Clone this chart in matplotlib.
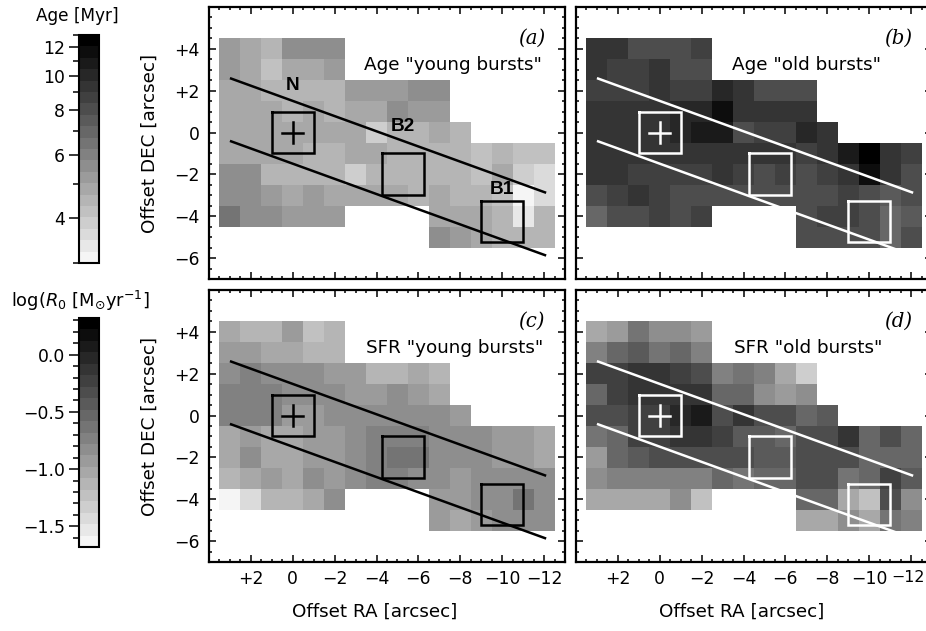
import numpy as np
import matplotlib
matplotlib.use('Agg')
import matplotlib.pyplot as plt
from matplotlib.colors import ListedColormap, LogNorm, Normalize
from matplotlib.cm import ScalarMappable
from matplotlib.ticker import FixedLocator, NullFormatter, FixedFormatter
from matplotlib.transforms import ScaledTranslation

plt.rcParams['font.family'] = 'DejaVu Sans'
plt.rcParams['mathtext.fontset'] = 'dejavusans'
_ = np.nan

ra_centers = [3, 2, 1, 0, -1, -2, -3, -4, -5, -6, -7, -8, -9, -10, -11, -12]
dec_centers = [4, 3, 2, 1, 0, -1, -2, -3, -4, -5]
gap4 = [_, _, _, _]
blank10 = [_] * 10

age_young = [
    [5.3, 5, 4.5, 5.5, 5.5, 5.5],
    [5.15, 4.85, 4.1, 4.7, 4.7, 5.15],
    [4.7, 4.7, 4.5, 4.5, 4.5, 4.5, 5.3, 5.3, 5.3, 5.65, 5.65],
    [4.7, 4.7, 4.7, 4.6, 4.7, 4.5, 4.85, 4.85, 5.65, 5.3, 5.3],
    [4.7, 5, 5, 4.7, 4.7, 4.85, 4.7, 4.0, 4.35, 4.5, 4.85, 4.6],
    [5, 5, 4.7, 4.7, 4.6, 4.5, 4.7, 4.7, 4.5, 4.5, 4.6, 4.6, 4.2, 4.5, 4.2, 4.1],
    [5.5, 5.5, 4.6, 4.6, 4.6, 4.6, 4.0, 4.5, 4.5, 4.5, 4.6, 4.35, 4.2, 4.85, 3.9, 3.5],
    [5.5, 5.5, 5.3, 5, 5.3, 4.85, 4.7, 4.7, 4.85, 4.6, 4.7, 4.5, 4.6, 4.2, 3.1, 3.6],
    [6.4, 5.8, 5.8, 5.3, 5.3, 5.3] + gap4 + [4.85, 4.85, 4.7, 4.5, 3.35, 4.35],
    blank10 + [5.65, 5.15, 4.85, 4.6, 4.35, 4.5],
]
age_old = [
    [9.1, 9.1, 8, 8, 8, 8.8],
    [9.3, 8.8, 8.8, 9.3, 8, 8],
    [8.8, 8.8, 8.8, 9.3, 8.8, 8.8, 9.9, 9.1, 8, 8, 8],
    [9.6, 9.6, 9.6, 9.6, 10.2, 10.2, 11.8, 9.6, 9.6, 9.6, 9.6],
    [9.1, 9.6, 9.6, 9.3, 9.9, 11.1, 11.1, 8, 8.8, 8.8, 10.2, 9.3],
    [9.3, 9.1, 9.1, 9.1, 9.6, 9.6, 9.6, 9.6, 9.1, 9.1, 8.8, 9.3, 11.1, 13, 9.3, 8.8],
    [9.6, 9.6, 8.8, 8.8, 8.8, 8.8, 9.6, 8.8, 8.2, 8.5, 8.2, 8.8, 9.3, 11.8, 9.6, 8.2],
    [8, 8.8, 9.3, 8.8, 8, 8, 8, 8, 8, 8, 8.2, 8.2, 8.8, 8, 7.3, 8],
    [6.85, 8, 8, 8.8, 8, 8.8] + gap4 + [8.2, 8.8, 8.8, 8.2, 6.85, 7.5],
    blank10 + [8.2, 8.2, 7.8, 7.8, 6.85, 8.2],
]
sfr_young = [
    [-1.03, -1.15, -1.15, -.9, -1.27, -1.15],
    [-.9, -.9, -1.03, -1.03, -1.15, -1.15],
    [-.82, -.74, -.82, -.82, -.82, -.9, -.9, -1.15, -1.15, -1.03, -1.15],
    [-.78, -.74, -.74, -.82, -.82, -.86, -.9, -.9, -.86, -.9, -1.03],
    [-.78, -.78, -.78, -.9, -.9, -.82, -.82, -.82, -.82, -.82, -.82, -.9],
    [-1.03, -.9, -1.03, -1.03, -.9, -.9, -.86, -.78, -.78, -.78, -.82, -.82, -.82, -.9, -.9, -1.03],
    [-1.03, -.82, -1.03, -1.03, -.9, -.9, -.86, -.78, -.66, -.66, -.82, -.82, -.82, -.9, -.9, -1.03],
    [-1.15, -1.03, -.9, -1.03, -.82, -.9, -.86, -.78, -.78, -.82, -.82, -.9, -.82, -.82, -.82, -.82],
    [-1.6, -1.39, -1.15, -1.15, -1.03, -.82] + gap4 + [-.9, -.9, -.82, -.82, -.66, -.82],
    blank10 + [-.9, -1.03, -.9, -.82, -.82, -.82],
]
sfr_old = [
    [-1.07, -.9, -.66, -.82, -.82, -.94],
    [-.74, -.5, -.41, -.62, -.5, -.7],
    [-.25, -.21, -.17, -.17, -.25, -.37, -.7, -.62, -.74, -1.03, -1.35],
    [-.5, -.25, -.17, -.09, -.13, -.17, -.54, -.54, -.82, -.94, -.82],
    [-.37, -.37, -.21, -.25, -.01, .07, -.29, -.17, -.37, -.37, -.5, -.41],
    [-.66, -.54, -.25, -.25, -.09, -.09, -.25, -.41, -.41, -.5, -.37, -.29, -.17, -.5, -.29, -.54],
    [-.94, -.58, -.41, -.29, -.29, -.33, -.37, -.37, -.41, -.41, -.37, -.29, -.29, -.54, -.54, -.54],
    [-.82, -.74, -.74, -.74, -.74, -.74, -.54, -.66, -.5, -.5, -.37, -.37, -.62, -.54, -.21, -.41],
    [-1.07, -1.07, -1.07, -1.07, -.82, -1.19] + gap4 + [-.58, -.5, -.99, -1.27, -.33, -.82],
    blank10 + [-1.07, -1.07, -.82, -1.07, -.66, -.78],
]

panel_tags = ['(a)', '(b)', '(c)', '(d)']
panel_titles = ['Age "young bursts"', 'Age "old bursts"', 'SFR "young bursts"', 'SFR "old bursts"']
x_ticks = [2, 0, -2, -4, -6, -8, -10, -12]
x_labels = ['+2', '0', '\u22122', '\u22124', '\u22126', '\u22128', '\u221210', '\u221212']
y_ticks = [4, 2, 0, -2, -4, -6]
y_labels = ['+4', '+2', '0', '\u22122', '\u22124', '\u22126']
age_ticks = [4, 6, 8, 10, 12]
age_minor = [3, 5, 7, 9, 11, 13]
sfr_ticks = [0.0, -0.5, -1.0, -1.5]
sfr_labels = ['0.0', '\u22120.5', '\u22121.0', '\u22121.5']
slit_ra = [3.0, -12.1]
slit_upper = [2.6, -2.88]
slit_lower = [-0.4, -5.88]
# regions: name, RA range, DEC range, label position
regions = [('N', (1, -1), (1, -1), (0, 2.25)),
           ('B2', (-4.25, -6.25), (-1, -3), (-5.25, 0.27)),
           ('B1', (-9, -11), (-3.25, -5.25), (-10, -2.7))]

W, H = 926, 631
FS = 13.2
TICK_FS = 12.4
fig = plt.figure(figsize=(W / 100, H / 100), dpi=100)


def rect(l, t, r, b):
    return [l / W, 1 - b / H, (r - l) / W, (b - t) / H]


def pad(row):
    return list(row) + [_] * (16 - len(row))


levels = np.linspace(245, 0, 20) / 255
cmap = ListedColormap([(g, g, g) for g in levels])
cmap.set_bad((1, 1, 1, 0))
age_norm = LogNorm(3, 13)
sfr_norm = Normalize(-1.68, 0.32)

x_edges = np.array(ra_centers + [ra_centers[-1] - 1]) + 0.5
y_edges = np.array(dec_centers + [dec_centers[-1] - 1]) + 0.5

boxes = [(209, 7, 565, 279), (576, 7, 932, 279), (209, 290, 565, 562), (576, 290, 932, 562)]
datasets = [age_young, age_old, sfr_young, sfr_old]
norms = [age_norm, age_norm, sfr_norm, sfr_norm]
title_x = [-7.65, -7.0, -7.75, -7.1]

for i, ax_box in enumerate(boxes):
    ax = fig.add_axes(rect(*ax_box))
    z = np.ma.masked_invalid(np.array([pad(r) for r in datasets[i]], dtype=float))
    ax.pcolormesh(x_edges, y_edges, z, cmap=cmap, norm=norms[i], linewidth=0, rasterized=True)
    ax.set_xlim(4, -13)
    ax.set_ylim(-7, 6)
    col = 'white' if i in (1, 3) else 'black'
    ax.plot(slit_ra, slit_upper, color=col, lw=1.8, solid_capstyle='butt')
    ax.plot(slit_ra, slit_lower, color=col, lw=1.8, solid_capstyle='butt')
    for name, (rx0, rx1), (ry0, ry1), (lx, ly) in regions:
        ax.plot([rx0, rx1, rx1, rx0, rx0], [ry0, ry0, ry1, ry1, ry0], color=col, lw=1.8,
                solid_joinstyle='miter')
        if i == 0:
            ax.text(lx, ly, name, ha='center', va='center', fontsize=FS + 0.5, color='black',
                    fontfamily='Liberation Sans', fontweight='bold')
    ax.plot([0.5, -0.5], [0, 0], color=col, lw=1.8)
    ax.plot([0, 0], [0.5, -0.5], color=col, lw=1.8)
    ax.xaxis.set_major_locator(FixedLocator(x_ticks))
    ax.yaxis.set_major_locator(FixedLocator(y_ticks))
    ax.xaxis.set_minor_locator(FixedLocator(np.arange(-13, 4.01, 0.5)))
    ax.yaxis.set_minor_locator(FixedLocator(np.arange(-7, 6.01, 0.5)))
    ax.tick_params(which='both', direction='in', top=True, right=True, width=1.1, color='black')
    ax.tick_params(which='major', length=5, labelsize=TICK_FS)
    ax.tick_params(which='minor', length=2.5)
    ax.tick_params(axis='x', which='major', pad=6)
    ax.tick_params(axis='y', which='major', pad=7)
    ax.xaxis.set_major_formatter(FixedFormatter(x_labels))
    ax.yaxis.set_major_formatter(FixedFormatter(y_labels))
    ax.tick_params(labelbottom=i >= 2, labelleft=i in (0, 2))
    for s in ax.spines.values():
        s.set_linewidth(1.6)
    if i == 3:
        last = ax.get_xticklabels()[-1]
        last.set_fontsize(11.4)
        last.set_transform(last.get_transform() + ScaledTranslation(-2.5 / 100, 0, fig.dpi_scale_trans))
    if i >= 2:
        ax.set_xlabel('Offset RA [arcsec]', fontsize=FS, labelpad=0)
        ax.xaxis.set_label_coords((375 - 209) / 356, -(612 - ax_box[3]) / 272, transform=ax.transAxes)
        ax.xaxis.label.set_va('center')
    if i in (0, 2):
        ax.set_ylabel('Offset DEC [arcsec]', fontsize=FS)
        ax.yaxis.set_label_coords(-(209 - 150) / 356, 0.5, transform=ax.transAxes)
        ax.yaxis.label.set_va('center')
    ax.text(-11.4, 4.5, panel_tags[i], ha='center', va='center', fontsize=FS + 1,
            fontfamily='DejaVu Serif', style='italic')
    ax.text(title_x[i], 3.25, panel_titles[i], ha='center', va='center', fontsize=FS)

# colour bars
cax1 = fig.add_axes(rect(79, 35, 99, 263))
cb1 = fig.colorbar(ScalarMappable(norm=age_norm, cmap=cmap), cax=cax1)
cax1.yaxis.set_ticks_position('left')
cax1.yaxis.set_major_locator(FixedLocator(age_ticks))
cax1.yaxis.set_minor_locator(FixedLocator(age_minor))
cax1.yaxis.set_major_formatter(FixedFormatter([str(t) for t in age_ticks]))
cax1.yaxis.set_minor_formatter(NullFormatter())

cax2 = fig.add_axes(rect(79, 318, 99, 547))
cb2 = fig.colorbar(ScalarMappable(norm=sfr_norm, cmap=cmap), cax=cax2)
cax2.yaxis.set_ticks_position('left')
cax2.yaxis.set_major_locator(FixedLocator(sfr_ticks))
cax2.yaxis.set_minor_locator(FixedLocator(np.arange(-1.6, 0.31, 0.1)))
cax2.yaxis.set_major_formatter(FixedFormatter(sfr_labels))
cax2.yaxis.set_minor_formatter(NullFormatter())

for cax, cb in ((cax1, cb1), (cax2, cb2)):
    cb.outline.set_linewidth(1.5)
    cax.tick_params(which='major', length=7, width=1.1, labelsize=TICK_FS, pad=3)
    cax.tick_params(which='minor', length=4, width=1.1)

fig.text(77 / W, 1 - 16 / H, 'Age [Myr]', ha='center', va='center', fontsize=FS - 1)
fig.text(80 / W, 1 - 301 / H, r'log($R_0$ [M$_{\odot}$yr$^{-1}$]', ha='center', va='center', fontsize=FS - 0.3)

fig.savefig('out.png', dpi=100)
